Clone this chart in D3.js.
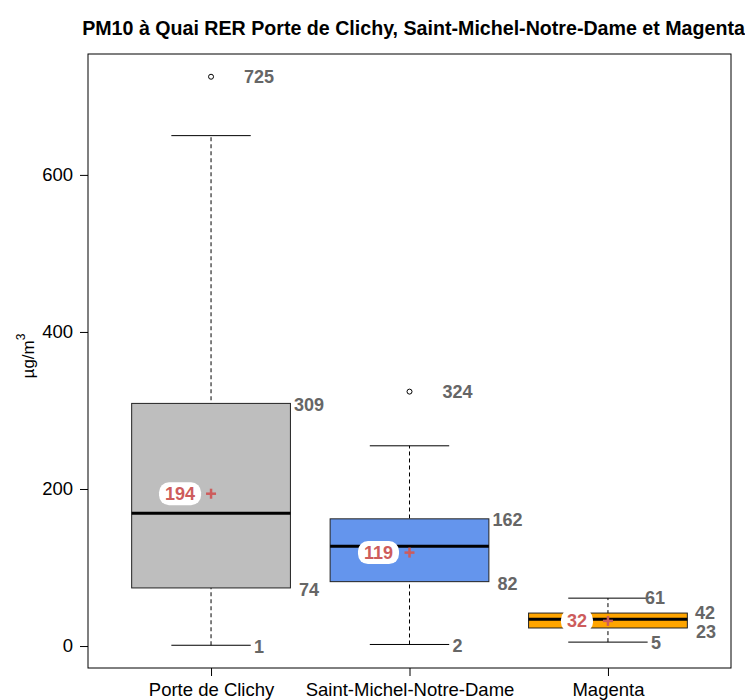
<!DOCTYPE html>
<html><head><meta charset="utf-8">
<script src="https://cdn.jsdelivr.net/npm/d3@7"></script>
<style>body{margin:0;background:#fff}</style>
</head><body>
<script>
const categories = ["Porte de Clichy","Saint-Michel-Notre-Dame","Magenta"];
const whiskerLow = [1,2,5];
const q1 = [74,82,23];
const median = [169,127,34];
const q3 = [309,162,42];
const whiskerHigh = [650,255,61];
const means = [194,119,32];
const outliers = [[725],[324],[]];
const boxColors = ["#BEBEBE","#6495ED","#FFA500"];
const yTicks = [0,200,400,600];
const title = "PM10 à Quai RER Porte de Clichy, Saint-Michel-Notre-Dame et Magenta";

const W=745,H=700;
const font="Arial, 'Liberation Sans', sans-serif";
const svg=d3.select("body").append("svg").attr("width",W).attr("height",H).style("font-family",font);
const L=88,R=731,T=54,B=668;
const x=d3.scaleLinear().domain([0.38,3.62]).range([L,R]);
const y=d3.scaleLinear().domain([-27.96,753.96]).range([B,T]);
const bw=x(1.4)-x(0.6), cw=bw/2;
const grey="#666", red="#CD5C5C";

// title
const tt=svg.append("text").attr("x",(L+R)/2+4).attr("y",35).attr("text-anchor","middle")
  .attr("font-weight","bold").attr("font-size",17).text(title);
const tw=tt.node().getComputedTextLength();
tt.attr("font-size",17*663/tw);

// y axis
const ya=svg.append("g").attr("transform",`translate(${L},0)`)
  .call(d3.axisLeft(y).tickValues(yTicks).tickSize(8).tickPadding(7).tickFormat(d3.format("d")));
ya.select(".domain").remove();
ya.selectAll("text").attr("font-size",18.5).attr("font-family",font).attr("fill","#000");
ya.selectAll("line").attr("stroke","#000");

// x axis
const xa=svg.append("g").attr("transform",`translate(0,${B})`)
  .call(d3.axisBottom(x).tickValues([1,2,3]).tickSize(8).tickPadding(7).tickFormat((d,i)=>categories[i]));
xa.select(".domain").remove();
xa.selectAll("text").attr("font-size",18.5).attr("font-family",font).attr("fill","#000");
xa.selectAll("line").attr("stroke","#000");

// y label
const yl=svg.append("text").attr("transform","translate(34,356) rotate(-90)").attr("text-anchor","middle")
  .attr("font-size",17);
yl.append("tspan").text("µg/m");
yl.append("tspan").attr("font-size",12).attr("dy",-9).text("3");

const g=svg.append("g");
categories.forEach((c,i)=>{
  const cx=x(i+1);
  g.append("line").attr("x1",cx).attr("x2",cx).attr("y1",y(whiskerLow[i])).attr("y2",y(whiskerHigh[i]))
    .attr("stroke","#000").attr("stroke-dasharray","4,3");
  [whiskerLow[i],whiskerHigh[i]].forEach(v=>{
    g.append("line").attr("x1",cx-cw/2).attr("x2",cx+cw/2).attr("y1",y(v)).attr("y2",y(v)).attr("stroke","#000");
  });
  g.append("rect").attr("x",cx-bw/2).attr("width",bw).attr("y",y(q3[i])).attr("height",y(q1[i])-y(q3[i]))
    .attr("fill",boxColors[i]).attr("stroke","#222").attr("stroke-width",1);
  g.append("line").attr("x1",cx-bw/2).attr("x2",cx+bw/2).attr("y1",y(median[i])).attr("y2",y(median[i]))
    .attr("stroke","#000").attr("stroke-width",3);
  outliers[i].forEach(v=>{
    g.append("circle").attr("cx",cx).attr("cy",y(v)).attr("r",2.5).attr("fill","none").attr("stroke","#000");
  });
  const lab=(v,dx,dy)=>g.append("text").attr("x",cx+dx).attr("y",y(v)+dy).attr("dy","0.35em")
    .attr("font-size",18).attr("font-weight","bold").attr("fill",grey).text(v);
  lab(q3[i],i===2?87:83,i===2?0:1);
  lab(q1[i],88,i===2?4:2);
  lab(whiskerLow[i],43,1);
  if(outliers[i].length) lab(d3.max(outliers[i]),33,0);
  else lab(whiskerHigh[i],37,0);
  const my=y(means[i]);
  const mt=g.append("text").attr("x",cx-31).attr("y",my).attr("dy","0.35em").attr("text-anchor","middle")
    .attr("font-size",18).attr("font-weight","bold").attr("fill",red).text(means[i]);
  const mw=mt.node().getComputedTextLength()+12;
  g.insert("rect",()=>mt.node()).attr("x",cx-31-mw/2).attr("width",mw).attr("y",my-11.5).attr("height",23)
    .attr("rx",10).attr("fill","#fff");
  g.append("line").attr("x1",cx-5).attr("x2",cx+5).attr("y1",my).attr("y2",my).attr("stroke",red).attr("stroke-width",2.5);
  g.append("line").attr("x1",cx).attr("x2",cx).attr("y1",my-5).attr("y2",my+5).attr("stroke",red).attr("stroke-width",2.5);
});

svg.append("rect").attr("x",L).attr("y",T).attr("width",R-L).attr("height",B-T)
  .attr("fill","none").attr("stroke","#000").attr("stroke-width",1);
</script>
</body></html>
